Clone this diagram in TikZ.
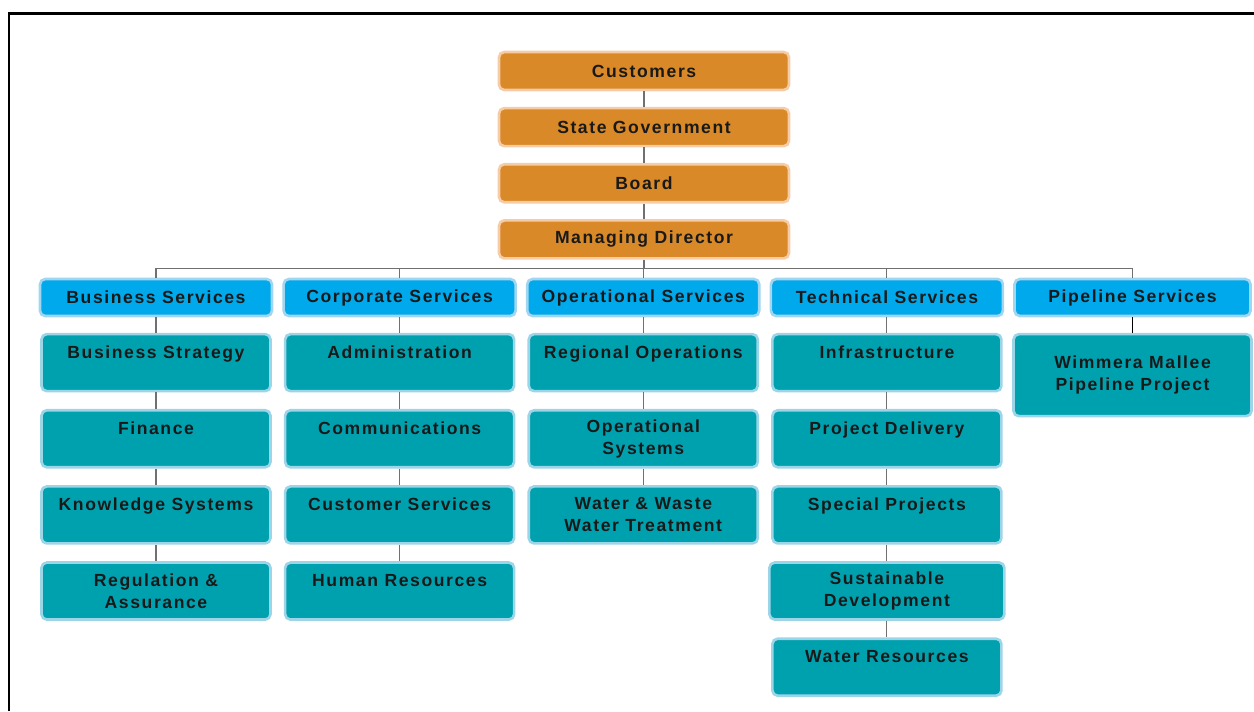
\documentclass[tikz,border=0pt]{standalone}
\usepackage{fontspec}
\setmainfont{Liberation Sans}[LetterSpace=9]
\usetikzlibrary{positioning}

\definecolor{mdorange}{RGB}{217,137,40}
\definecolor{mdpeach}{RGB}{246,204,166}
\definecolor{hdblue}{RGB}{0,168,236}
\definecolor{hdedge}{RGB}{160,214,240}
\definecolor{unitteal}{RGB}{0,161,175}
\definecolor{unitedge}{RGB}{156,212,232}
\definecolor{linegray}{RGB}{112,112,112}

\tikzset{
  obox/.style={draw=mdpeach, fill=mdorange, line width=1.5pt, rounded corners=3pt,
    minimum width=5.8cm, minimum height=0.76cm, inner sep=0pt},
  hbox/.style={draw=hdedge, fill=hdblue, line width=1.5pt, rounded corners=3pt,
    minimum width=4.64cm, minimum height=0.74cm, inner sep=0pt},
  tbox/.style={draw=unitedge, fill=unitteal, line width=1.5pt, rounded corners=3pt,
    minimum width=4.58cm, minimum height=1.14cm, inner sep=0pt, align=center},
  conn/.style={draw=linegray, line width=0.6pt}
}

\begin{document}
\begin{tikzpicture}[node distance=0.31cm, font=\fontsize{10}{12.5}\selectfont\bfseries, text=black!90]
\useasboundingbox (0,0) rectangle (25.08,-14.22);
% frame
\draw[line width=1.7pt] (0.18,-14.22) -- (0.18,-0.26) -- (25.08,-0.26);

% governance
\node[obox] (cust) at (12.88,-1.42) {Customers};
\node[obox, below=of cust] (gov) {State Government};
\node[obox, below=of gov] (board) {Board};
\node[obox, below=of board] (md) {Managing Director};

% divisions
\node[hbox] (bsv) at (3.12,-5.95) {Business Services};
\node[hbox, right=0.18cm of bsv] (csv) {Corporate Services};
\node[hbox, right=0.18cm of csv] (osv) {Operational Services};
\node[hbox, right=0.18cm of osv] (tsv) {Technical Services};
\node[hbox, right=0.18cm of tsv, minimum width=4.72cm] (psv) {Pipeline Services};

% business services
\node[tbox, below=of bsv] (strat) {Business Strategy\\~};
\node[tbox, below=0.33cm of strat] (fin) {Finance\\~};
\node[tbox, below=0.33cm of fin] (know) {Knowledge Systems\\~};
\node[tbox, below=0.33cm of know] (reg) {Regulation \&\\Assurance};

% corporate services
\node[tbox, below=of csv] (admin) {Administration\\~};
\node[tbox, below=0.33cm of admin] (comm) {Communications\\~};
\node[tbox, below=0.33cm of comm] (custsv) {Customer Services\\~};
\node[tbox, below=0.33cm of custsv] (hr) {Human Resources\\~};

% operational services
\node[tbox, below=of osv] (regops) {Regional Operations\\~};
\node[tbox, below=0.33cm of regops] (opsys) {Operational\\Systems};
\node[tbox, below=0.33cm of opsys] (water) {Water \& Waste\\Water Treatment};

% technical services
\node[tbox, below=of tsv] (infra) {Infrastructure\\~};
\node[tbox, below=0.33cm of infra] (projdel) {Project Delivery\\~};
\node[tbox, below=0.33cm of projdel] (special) {Special Projects\\~};
\node[tbox, below=0.33cm of special, minimum width=4.7cm] (sustain) {Sustainable\\Development};
\node[tbox, below=0.33cm of sustain] (waterres) {Water Resources\\~};

% pipeline services
\node[tbox, below=of psv, minimum width=4.76cm, minimum height=1.64cm] (wimmera) {Wimmera Mallee\\Pipeline Project};

% connectors
\foreach \a/\b in {cust/gov, gov/board, board/md,
    bsv/strat, strat/fin, fin/know, know/reg,
    csv/admin, admin/comm, comm/custsv, custsv/hr,
    osv/regops, regops/opsys, opsys/water,
    tsv/infra, infra/projdel, projdel/special, special/sustain, sustain/waterres}
  \draw[conn] (\a.south) -- (\b.north);
\draw[conn] (md.south) -- ++(0,-0.18) coordinate (split);
\draw[conn] (bsv.north) |- (split) -| (psv.north);
\foreach \h in {csv, osv, tsv}
  \draw[conn] (\h.north) -- (\h.north |- split);
\draw[line width=1pt] (psv.south) -- (wimmera.north);
\end{tikzpicture}
\end{document}
